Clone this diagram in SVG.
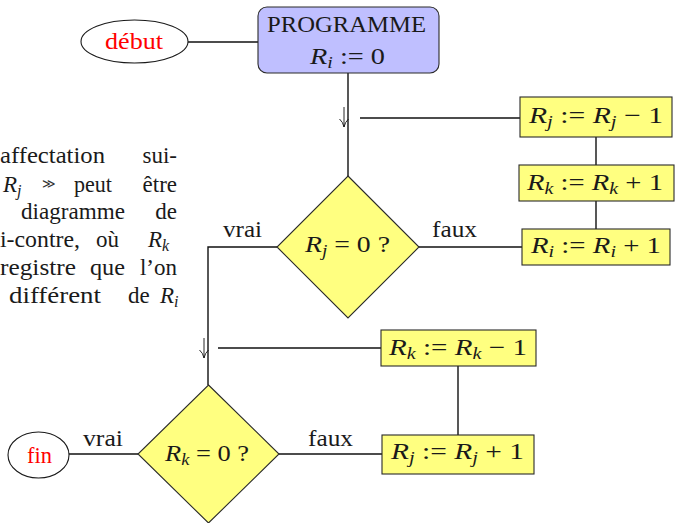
<svg xmlns="http://www.w3.org/2000/svg" width="675" height="523" viewBox="0 0 675 523" font-family="'Liberation Serif', 'DejaVu Serif', serif">
  <style>
    text { font-family: "Liberation Serif", "DejaVu Serif", serif; font-size: 23px; fill: #1a1a1a; }
    .it { font-style: italic; }
    .sub { font-style: italic; font-size: 16px; }
    .red { fill: #ff0000; }
    .para { font-size: 23px; }
    .gg { font-size: 13px; fill: #333333; }
    .box { fill: #ffff80; stroke: #2a2a2a; stroke-width: 1.1; }
    .dec { fill: #ffff80; stroke: #2a2a2a; stroke-width: 1.1; }
    .term { fill: #ffffff; stroke: #1a1a1a; stroke-width: 1.1; }
    .prog { fill: #bfbfff; stroke: #2a2a2a; stroke-width: 1.1; }
    .wire { fill: none; stroke: #111111; stroke-width: 1.4; }
    .tick { fill: none; stroke: #111111; stroke-width: 0.9; }
  </style>

  <!-- justified paragraph, clipped by the left page edge -->
  <g id="paragraph">
    <text class="para" x="0" y="163" textLength="105" lengthAdjust="spacingAndGlyphs">affectation</text>
    <text class="para" x="177" y="163" text-anchor="end">sui-</text>

    <text class="para" x="3" y="192"><tspan class="it">R</tspan><tspan class="sub" dy="4">j</tspan></text>
    <text class="gg" x="42" y="188">≫</text>
    <text class="para" x="74" y="192" textLength="38" lengthAdjust="spacingAndGlyphs">peut</text>
    <text class="para" x="177" y="192" text-anchor="end">être</text>

    <text class="para" x="21" y="219" textLength="104" lengthAdjust="spacingAndGlyphs">diagramme</text>
    <text class="para" x="177" y="219" text-anchor="end">de</text>

    <text class="para" x="0" y="247" textLength="80" lengthAdjust="spacingAndGlyphs">i-contre,</text>
    <text class="para" x="96" y="247">où</text>
    <text class="para" x="148" y="247"><tspan class="it">R</tspan><tspan class="sub" dy="4">k</tspan></text>

    <text class="para" x="0" y="275" textLength="76" lengthAdjust="spacingAndGlyphs">registre</text>
    <text class="para" x="90" y="275" textLength="35" lengthAdjust="spacingAndGlyphs">que</text>
    <text class="para" x="177" y="275" text-anchor="end">l’on</text>

    <text class="para" x="9" y="303" textLength="92" lengthAdjust="spacingAndGlyphs">différent</text>
    <text class="para" x="128" y="303">de</text>
    <text class="para" x="160" y="303"><tspan class="it">R</tspan><tspan class="sub" dy="4">i</tspan></text>
  </g>

  <!-- connectors -->
  <g id="connectors">
    <path class="wire" d="M188,42 H258"/>
    <path class="wire" d="M348,73 V176"/>
    <path class="wire" d="M360,118 H520"/>
    <path class="wire" d="M596,137 V165"/>
    <path class="wire" d="M596,201 V229"/>
    <path class="wire" d="M419,247 H522"/>
    <path class="wire" d="M277,247 H208 V385"/>
    <path class="wire" d="M218,348 H381"/>
    <path class="wire" d="M458,366 V435"/>
    <path class="wire" d="M279,454 H382"/>
    <path class="wire" d="M138,454 H69"/>
    <!-- down arrows beside the loop joins -->
    <path class="tick" d="M344,107 V127 M339.5,119 Q343,122 344,127 Q345,122 348.5,119"/>
    <path class="tick" d="M204,338 V358 M199.5,350 Q203,353 204,358 Q205,353 208.5,350"/>
    <!-- branch labels -->
    <text x="223" y="237" textLength="39" lengthAdjust="spacingAndGlyphs">vrai</text>
    <text x="432" y="237" textLength="45" lengthAdjust="spacingAndGlyphs">faux</text>
    <text x="308" y="446" textLength="45" lengthAdjust="spacingAndGlyphs">faux</text>
    <text x="83" y="446" textLength="40" lengthAdjust="spacingAndGlyphs">vrai</text>
  </g>

  <g id="debut">
    <ellipse class="term" cx="134.5" cy="41.5" rx="53.5" ry="21.5"/>
    <text class="red" x="105" y="49" textLength="58" lengthAdjust="spacingAndGlyphs">début</text>
  </g>

  <g id="programme">
    <rect class="prog" x="258" y="7" width="181" height="66" rx="9" ry="9"/>
    <text x="267" y="32" textLength="159" lengthAdjust="spacingAndGlyphs">PROGRAMME</text>
    <text x="310" y="64" textLength="75" lengthAdjust="spacingAndGlyphs"><tspan class="it">R</tspan><tspan class="sub" dy="4">i</tspan><tspan dy="-4"> := 0</tspan></text>
  </g>

  <g id="dec-rj">
    <polygon class="dec" points="348,176 419,247 348,318 277,247"/>
    <text x="305" y="252" textLength="85" lengthAdjust="spacingAndGlyphs"><tspan class="it">R</tspan><tspan class="sub" dy="4">j</tspan><tspan dy="-4"> = 0 ?</tspan></text>
  </g>

  <g id="rj-dec">
    <rect class="box" x="520" y="97" width="152" height="40"/>
    <text x="529" y="123" textLength="134" lengthAdjust="spacingAndGlyphs"><tspan class="it">R</tspan><tspan class="sub" dy="4">j</tspan><tspan dy="-4"> := </tspan><tspan class="it">R</tspan><tspan class="sub" dy="4">j</tspan><tspan dy="-4"> − 1</tspan></text>
  </g>

  <g id="rk-inc">
    <rect class="box" x="519" y="165" width="155" height="36"/>
    <text x="527" y="190" textLength="136" lengthAdjust="spacingAndGlyphs"><tspan class="it">R</tspan><tspan class="sub" dy="4">k</tspan><tspan dy="-4"> := </tspan><tspan class="it">R</tspan><tspan class="sub" dy="4">k</tspan><tspan dy="-4"> + 1</tspan></text>
  </g>

  <g id="ri-inc">
    <rect class="box" x="522" y="229" width="148" height="36"/>
    <text x="531" y="253" textLength="130" lengthAdjust="spacingAndGlyphs"><tspan class="it">R</tspan><tspan class="sub" dy="4">i</tspan><tspan dy="-4"> := </tspan><tspan class="it">R</tspan><tspan class="sub" dy="4">i</tspan><tspan dy="-4"> + 1</tspan></text>
  </g>

  <g id="rk-dec">
    <rect class="box" x="381" y="330" width="155" height="36"/>
    <text x="389" y="355" textLength="138" lengthAdjust="spacingAndGlyphs"><tspan class="it">R</tspan><tspan class="sub" dy="4">k</tspan><tspan dy="-4"> := </tspan><tspan class="it">R</tspan><tspan class="sub" dy="4">k</tspan><tspan dy="-4"> − 1</tspan></text>
  </g>

  <g id="rj-inc">
    <rect class="box" x="382" y="435" width="152" height="39"/>
    <text x="391" y="459" textLength="133" lengthAdjust="spacingAndGlyphs"><tspan class="it">R</tspan><tspan class="sub" dy="4">j</tspan><tspan dy="-4"> := </tspan><tspan class="it">R</tspan><tspan class="sub" dy="4">j</tspan><tspan dy="-4"> + 1</tspan></text>
  </g>

  <g id="dec-rk">
    <polygon class="dec" points="208.5,385 279,454 208.5,523 138,454"/>
    <text x="165" y="461" textLength="84" lengthAdjust="spacingAndGlyphs"><tspan class="it">R</tspan><tspan class="sub" dy="4">k</tspan><tspan dy="-4"> = 0 ?</tspan></text>
  </g>

  <g id="fin">
    <ellipse class="term" cx="38.5" cy="455" rx="30.5" ry="23"/>
    <text class="red" x="27" y="463" textLength="25" lengthAdjust="spacingAndGlyphs">fin</text>
  </g>
</svg>
